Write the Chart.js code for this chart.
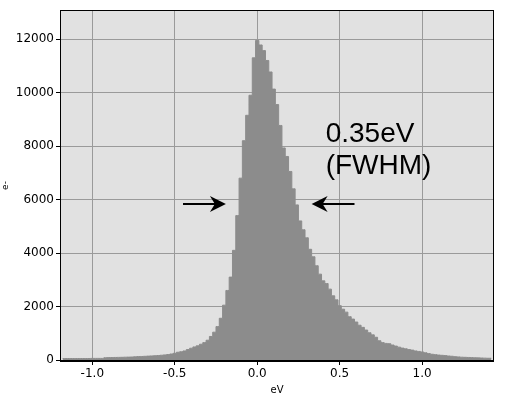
<!DOCTYPE html>
<html>
<head>
<meta charset="utf-8">
<script src="https://cdn.jsdelivr.net/npm/chart.js@4"></script>
<style>
  html, body { margin: 0; padding: 0; background: #fff; }
</style>
</head>
<body>
<canvas id="chart" width="512" height="397"></canvas>
<script>
// histogram bins (eV, bin centres, 0.02 wide) and counts (e-)
const binCenters = [
  -1.18, -1.16, -1.14, -1.12, -1.10, -1.08, -1.06, -1.04, -1.02, -1.00,
  -0.98, -0.96, -0.94, -0.92, -0.90, -0.88, -0.86, -0.84, -0.82, -0.80,
  -0.78, -0.76, -0.74, -0.72, -0.70, -0.68, -0.66, -0.64, -0.62, -0.60,
  -0.58, -0.56, -0.54, -0.52, -0.50, -0.48, -0.46, -0.44, -0.42, -0.40,
  -0.38, -0.36, -0.34, -0.32, -0.30, -0.28, -0.26, -0.24, -0.22, -0.20,
  -0.18, -0.16, -0.14, -0.12, -0.10, -0.08, -0.06, -0.04, -0.02, 0.00,
  0.02, 0.04, 0.06, 0.08, 0.10, 0.12, 0.14, 0.16, 0.18, 0.20,
  0.22, 0.24, 0.26, 0.28, 0.30, 0.32, 0.34, 0.36, 0.38, 0.40,
  0.42, 0.44, 0.46, 0.48, 0.50, 0.52, 0.54, 0.56, 0.58, 0.60,
  0.62, 0.64, 0.66, 0.68, 0.70, 0.72, 0.74, 0.76, 0.78, 0.80,
  0.82, 0.84, 0.86, 0.88, 0.90, 0.92, 0.94, 0.96, 0.98, 1.00,
  1.02, 1.04, 1.06, 1.08, 1.10, 1.12, 1.14, 1.16, 1.18, 1.20,
  1.22, 1.24, 1.26, 1.28, 1.30, 1.32, 1.34, 1.36, 1.38, 1.40,
  1.42
];
const counts = [
  55, 55, 55, 55, 55, 55, 55, 55, 55, 60,
  60, 60, 60, 85, 90, 92, 95, 98, 100, 105,
  108, 112, 120, 128, 132, 138, 145, 152, 160, 168,
  178, 190, 205, 225, 250, 290, 310, 340, 390, 440,
  490, 530, 590, 650, 740, 880, 1040, 1250, 1560, 2050,
  2600, 3100, 4100, 5400, 6800, 8200, 9150, 9900, 11300, 11950,
  11780, 11570, 11200, 10770, 10130, 9550, 8770, 7930, 7610, 7050,
  6400, 5800, 5200, 4870, 4570, 4140, 3860, 3525, 3210, 2960,
  2860, 2650, 2400, 2250, 2030, 1900, 1790, 1620, 1530, 1420,
  1300, 1220, 1120, 1020, 940, 850, 720, 650, 620, 610,
  560, 520, 480, 445, 420, 390, 370, 340, 320, 300,
  270, 240, 215, 200, 185, 175, 165, 150, 140, 125,
  115, 105, 100, 95, 90, 85, 80, 75, 70, 65,
  65
];
const xTicks = [-1.0, -0.5, 0.0, 0.5, 1.0];
const yTicks = [0, 2000, 4000, 6000, 8000, 10000, 12000];

const fwhmLabel = ['0.35eV', '(FWHM)'];

// plot frame + FWHM annotation
const framePlugin = {
  id: 'frame',
  beforeDraw(chart) {
    const { ctx, chartArea: a } = chart;
    ctx.save();
    ctx.fillStyle = '#e1e1e1';
    ctx.fillRect(a.left, a.top, a.right - a.left, a.bottom - a.top);
    ctx.restore();
  },
  afterDatasetsDraw(chart) {
    const { ctx, scales } = chart;
    const x = scales.x, y = scales.y;
    ctx.save();
    ctx.fillStyle = '#000';
    ctx.strokeStyle = '#000';
    ctx.lineWidth = 2;

    const arrow = (fromX, toX, atY) => {
      const x0 = x.getPixelForValue(fromX);
      const x1 = x.getPixelForValue(toX);
      const py = Math.round(y.getPixelForValue(atY));
      const dir = x1 > x0 ? 1 : -1;
      ctx.beginPath();
      ctx.moveTo(x0, py);
      ctx.lineTo(x1 - dir * 10, py);
      ctx.stroke();
      ctx.beginPath();
      ctx.moveTo(x1, py);
      ctx.lineTo(x1 - dir * 16, py - 8);
      ctx.lineTo(x1 - dir * 11, py);
      ctx.lineTo(x1 - dir * 16, py + 8);
      ctx.closePath();
      ctx.fill();
    };
    arrow(-0.45, -0.19, 5850);
    arrow(0.59, 0.33, 5850);

    ctx.font = '28px "Liberation Sans", Arial, sans-serif';
    ctx.textBaseline = 'alphabetic';
    const tx = x.getPixelForValue(0.415);
    const ty = y.getPixelForValue(8150);
    ctx.fillText(fwhmLabel[0], tx, ty);
    ctx.fillText(fwhmLabel[1], tx, ty + 32);
    ctx.restore();
  },
  afterDraw(chart) {
    const { ctx, chartArea: a } = chart;
    ctx.save();
    ctx.strokeStyle = '#000';
    ctx.lineWidth = 1;
    ctx.strokeRect(a.left - 0.5, a.top - 0.5, a.right - a.left + 1, a.bottom - a.top + 1);
    ctx.lineWidth = 2;
    ctx.beginPath();
    ctx.moveTo(a.left - 1, a.bottom + 1);
    ctx.lineTo(a.right + 1, a.bottom + 1);
    ctx.stroke();
    ctx.restore();
  }
};

const tickFont = { family: 'DejaVu Sans', size: 12 };

new Chart(document.getElementById('chart'), {
  type: 'line',
  data: {
    datasets: [{
      data: binCenters.map((c, i) => ({ x: c, y: counts[i] })),
      stepped: 'middle',
      fill: 'origin',
      backgroundColor: '#8c8c8c',
      borderColor: '#8c8c8c',
      borderWidth: 1,
      pointRadius: 0
    }]
  },
  options: {
    responsive: false,
    animation: false,
    devicePixelRatio: 1,
    layout: { padding: { top: 11, right: 19, left: 0, bottom: 0 } },
    plugins: {
      legend: { display: false },
      tooltip: { enabled: false }
    },
    scales: {
      x: {
        type: 'linear',
        min: -1.19,
        max: 1.43,
        offset: false,
        grid: { color: '#9a9a9a', lineWidth: 1, tickColor: '#000', tickLength: 5 },
        border: { display: false },
        ticks: {
          color: '#000',
          font: tickFont,
          padding: 2,
          maxRotation: 0,
          callback: v => v.toFixed(1)
        },
        title: {
          display: true,
          text: 'eV',
          color: '#000',
          font: { family: 'DejaVu Sans', size: 10 },
          padding: { top: 0, bottom: 1 }
        },
        afterBuildTicks: s => { s.ticks = xTicks.map(v => ({ value: v })); },
        afterFit: s => { s.height = 37; }
      },
      y: {
        min: 0,
        max: 13050,
        grid: { color: '#9a9a9a', lineWidth: 1, tickColor: '#000', tickLength: 5 },
        border: { display: false },
        ticks: {
          color: '#000',
          font: tickFont,
          padding: 2,
          callback: v => String(v)
        },
        title: {
          display: true,
          text: 'e-',
          color: '#000',
          font: { family: 'DejaVu Sans', size: 9 },
          padding: { top: 0, bottom: 0 }
        },
        afterBuildTicks: s => { s.ticks = yTicks.map(v => ({ value: v })); },
        afterFit: s => { s.width = 61; }
      }
    }
  },
  plugins: [framePlugin]
});
</script>
</body>
</html>
